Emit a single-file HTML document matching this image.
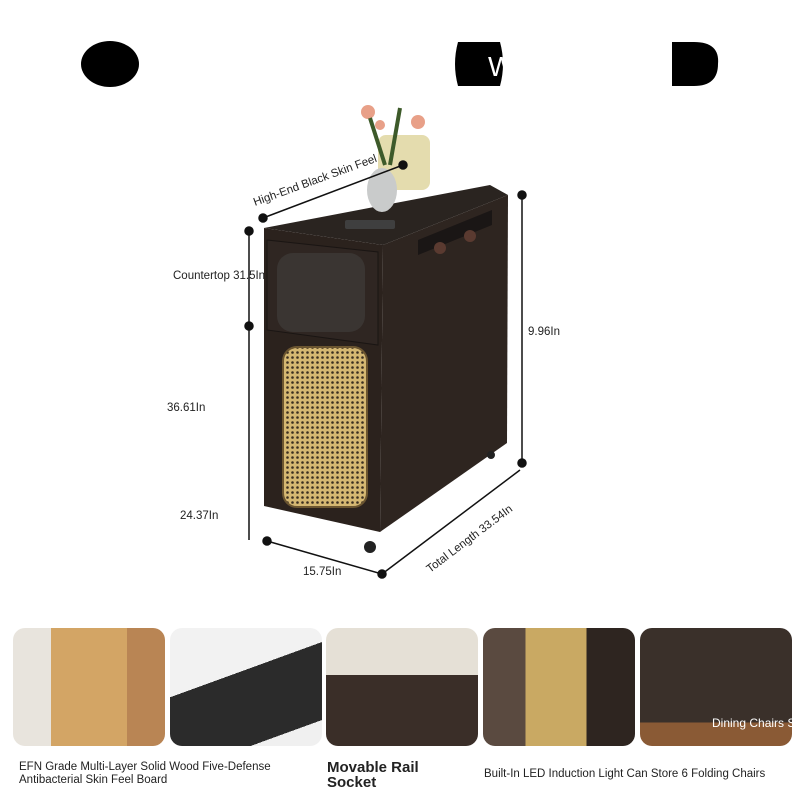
<!DOCTYPE html>
<html><head><meta charset="utf-8"><style>
body{margin:0;width:800px;height:800px;background:#fff;overflow:hidden;font-family:"Liberation Sans",sans-serif;position:relative}
.t{position:absolute;font-size:11.5px;color:#222}
.th{position:absolute;top:628px;width:152px;height:118px;border-radius:12px;overflow:hidden}
</style></head><body>
<svg width="800" height="800" style="position:absolute;left:0;top:0">
<defs><pattern id="r" width="5" height="5" patternUnits="userSpaceOnUse"><rect width="5" height="5" fill="#d4b772"/><circle cx="2.5" cy="2.5" r="1.3" fill="#3a2e20"/></pattern></defs>
<ellipse cx="110" cy="64" rx="29" ry="23" fill="#000"/>
<path d="M458 42 H500 Q506 64 500 86 H458 Q452 64 458 42Z" fill="#000"/>
<text x="488" y="76" font-size="28" fill="#fff" font-family="Liberation Sans">W</text>
<path d="M672 42 H694 Q720 42 718 64 Q718 86 694 86 H672Z" fill="#000"/>
<polygon points="264,228 490,185 508,195 383,245" fill="#2a2420"/>
<polygon points="383,245 508,195 507,443 380,532" fill="#2e2520"/>
<polygon points="264,228 383,245 380,532 264,506" fill="#2b221d"/>
<polygon points="267,240 378,252 378,345 267,330" fill="#2f2622" stroke="#1a1513"/>
<rect x="277" y="253" width="88" height="79" rx="16" fill="#3a3532"/>
<rect x="283" y="347" width="84" height="160" rx="14" fill="url(#r)"/>
<rect x="283" y="347" width="84" height="160" rx="14" fill="none" stroke="#6b5530" stroke-width="2"/>
<polygon points="418,240 492,210 492,225 418,255" fill="#1a1615"/>
<circle cx="440" cy="248" r="6" fill="#5a3a30"/><circle cx="470" cy="236" r="6" fill="#5a3a30"/>
<rect x="345" y="220" width="50" height="9" rx="2" fill="#3f3f3f"/>
<circle cx="370" cy="547" r="6" fill="#222"/><circle cx="491" cy="455" r="4" fill="#222"/>
<rect x="378" y="135" width="52" height="55" rx="8" fill="#e4dcae"/>
<ellipse cx="382" cy="190" rx="15" ry="22" fill="#c9cbcb"/>
<circle cx="368" cy="112" r="7" fill="#e8a088"/><circle cx="380" cy="125" r="5" fill="#e8a088"/><circle cx="418" cy="122" r="7" fill="#e8a088"/>
<path d="M370 118 L385 165 M400 108 L390 165" stroke="#3d5a2a" stroke-width="4"/>
<g stroke="#111" stroke-width="1.5" fill="#111">
<line x1="263" y1="218" x2="403" y2="165"/><circle cx="263" cy="218" r="4"/><circle cx="403" cy="165" r="4"/>
<line x1="249" y1="231" x2="249" y2="540"/><circle cx="249" cy="231" r="4"/><circle cx="249" cy="326" r="4"/>
<line x1="522" y1="195" x2="522" y2="463"/><circle cx="522" cy="195" r="4"/><circle cx="522" cy="463" r="4"/>
<line x1="267" y1="541" x2="382" y2="574"/><circle cx="267" cy="541" r="4"/><circle cx="382" cy="574" r="4"/>
<line x1="382" y1="574" x2="520" y2="470"/>
</g>
<text x="255" y="206" font-size="11.5" fill="#222" transform="rotate(-20 255 206)" font-family="Liberation Sans">High-End Black Skin Feel</text>
<text x="430" y="573" font-size="11.5" fill="#222" transform="rotate(-37 430 573)" font-family="Liberation Sans">Total Length 33.54In</text>
</svg>
<div class="t" style="left:173px;top:270px">Countertop 31.5In</div>
<div class="t" style="left:167px;top:402px">36.61In</div>
<div class="t" style="left:180px;top:510px">24.37In</div>
<div class="t" style="left:528px;top:326px">9.96In</div>
<div class="t" style="left:303px;top:566px">15.75In</div>
<div class="th" style="left:13px;background:linear-gradient(90deg,#e8e4dd 0 25%,#d3a565 25% 75%,#b98554 75%)"></div>
<div class="th" style="left:170px;background:linear-gradient(160deg,#f2f2f2 0 40%,#2b2b2b 40% 85%,#f0f0f0 85%)"></div>
<div class="th" style="left:326px;background:linear-gradient(180deg,#e5e0d6 0 40%,#3a2e28 40%)"></div>
<div class="th" style="left:483px;background:linear-gradient(90deg,#5a4a40 0 28%,#c9a963 28% 68%,#2e2520 68%)"></div>
<div class="th" style="left:640px;background:linear-gradient(180deg,#3a302a 0 80%,#8a5a35 80%)"><span style="position:absolute;left:72px;top:88px;color:#fff;font-size:12px;white-space:nowrap">Dining Chairs So</span></div>
<div class="t" style="left:19px;top:761px;font-size:11.5px;line-height:13px;width:300px">EFN Grade Multi-Layer Solid Wood Five-Defense Antibacterial Skin Feel Board</div>
<div class="t" style="left:327px;top:760px;font-size:15px;line-height:15px;font-weight:bold;color:#222">Movable Rail<br>Socket</div>
<div class="t" style="left:484px;top:768px;font-size:11.5px">Built-In LED Induction Light Can Store 6 Folding Chairs</div>
</body></html>
